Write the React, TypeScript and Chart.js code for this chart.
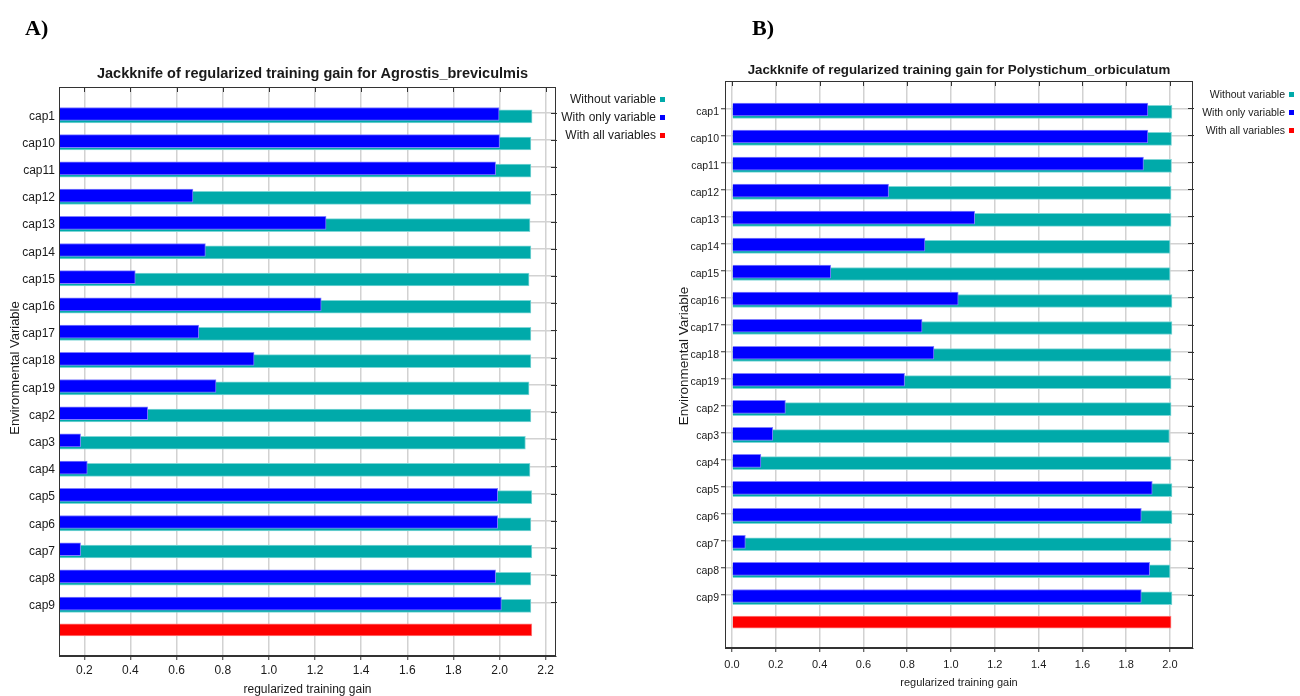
import React, { useEffect, useRef } from "react";
import { Chart, registerables } from "chart.js";

Chart.register(...registerables);

// ---------- data ----------
const categories = [
  "cap1", "cap10", "cap11", "cap12", "cap13", "cap14", "cap15", "cap16", "cap17", "cap18",
  "cap19", "cap2", "cap3", "cap4", "cap5", "cap6", "cap7", "cap8", "cap9",
];

// Panel A: Agrostis_breviculmis
const withoutA = [
  2.141, 2.136, 2.136, 2.136, 2.132, 2.136, 2.128, 2.136, 2.136, 2.136,
  2.128, 2.136, 2.112, 2.132, 2.14, 2.136, 2.14, 2.136, 2.136,
];
const onlyA = [
  1.998, 2.0, 1.983, 0.671, 1.248, 0.725, 0.421, 1.227, 0.696, 0.936,
  0.771, 0.475, 0.184, 0.213, 1.992, 1.992, 0.184, 1.983, 2.008,
];
const allA = 2.14;

// Panel B: Polystichum_orbiculatum
const withoutB = [
  2.009, 2.007, 2.007, 2.005, 2.005, 2.0, 2.0, 2.009, 2.009, 2.005,
  2.005, 2.005, 1.997, 2.005, 2.009, 2.009, 2.005, 2.0, 2.009,
];
const onlyB = [
  1.899, 1.899, 1.879, 0.715, 1.108, 0.881, 0.451, 1.033, 0.868, 0.922,
  0.788, 0.244, 0.186, 0.132, 1.919, 1.869, 0.061, 1.907, 1.869,
];
const allB = 2.005;

const xTicksA = [0.2, 0.4, 0.6, 0.8, 1.0, 1.2, 1.4, 1.6, 1.8, 2.0, 2.2];
const xTicksB = [0.0, 0.2, 0.4, 0.6, 0.8, 1.0, 1.2, 1.4, 1.6, 1.8, 2.0];

const legendLabels = ["Without variable", "With only variable", "With all variables"];
const titleA = "Jackknife of regularized training gain for Agrostis_breviculmis";
const titleB = "Jackknife of regularized training gain for Polystichum_orbiculatum";
const xAxisTitle = "regularized training gain";
const yAxisTitle = "Environmental Variable";

// ---------- styling ----------
const TEAL = "#00aaaa";
const TEAL_EDGE = "#7fd6d6";
const BLUE = "#0000ff";
const BLUE_EDGE = "#7f7fff";
const RED = "#ff0000";
const RED_EDGE = "#ff8080";
const FONT = "'Liberation Sans', Arial, sans-serif";
const TEXT = "#1a1a1a";
const AXIS = "#333333";

type Panel = {
  w: number;
  h: number;
  title: string;
  without: number[];
  only: number[];
  all: number;
  xTicks: number[];
  xMin: number;
  xMax: number;
  yMin: number;
  yMax: number;
  area: { left: number; top: number; right: number; bottom: number };
  font: number;
  xTickFont: number;
  titleFont: number;
  xTitleFont: number;
  yTitleFont: number;
  titlePos: [number, number];
  yTitlePos: [number, number];
  xTitleY: number;
  legend: { xEnd: number; y0: number; dy: number };
  leftTicks: boolean;
  xLabelPad: number;
};

const TICK_SHIFT = 0.13; // grid/tick lines sit slightly above bar centre
const BLUE_SHIFT = -0.085;
const RED_SHIFT = -0.12;

function ChartPanel({ p }: { p: Panel }) {
  const ref = useRef<HTMLCanvasElement | null>(null);
  useEffect(() => {
    if (!ref.current) return;
    const colors = [TEAL, BLUE, RED];
    const decor = {
      id: "decor",
      afterDraw(chart: any) {
        const ctx = chart.ctx as CanvasRenderingContext2D;
        const a = chart.chartArea;
        const xs = chart.scales.x;
        const ys = chart.scales.y;
        ctx.save();
        // frame
        ctx.strokeStyle = AXIS;
        ctx.lineWidth = 1;
        ctx.strokeRect(Math.round(a.left) + 0.5, Math.round(a.top) + 0.5, Math.round(a.right - a.left) - 1, Math.round(a.bottom - a.top) - 1);
        // right ticks
        ctx.beginPath();
        categories.forEach((_, i) => {
          const y = Math.round(ys.getPixelForValue(i - TICK_SHIFT)) + 0.5;
          ctx.moveTo(a.right - 5, y);
          ctx.lineTo(a.right + 1, y);
        });
        // top ticks
        p.xTicks.forEach((v) => {
          const x = Math.round(xs.getPixelForValue(v)) + 0.5;
          ctx.moveTo(x, a.top);
          ctx.lineTo(x, a.top + 5);
        });
        ctx.stroke();
        // title
        ctx.fillStyle = TEXT;
        ctx.textAlign = "center";
        ctx.textBaseline = "middle";
        ctx.font = `bold ${p.titleFont}px ${FONT}`;
        ctx.fillText(p.title, p.titlePos[0], p.titlePos[1]);
        // legend
        ctx.font = `${p.font}px ${FONT}`;
        ctx.textAlign = "right";
        legendLabels.forEach((t, i) => {
          const y = p.legend.y0 + i * p.legend.dy;
          ctx.fillStyle = TEXT;
          ctx.fillText(t, p.legend.xEnd, y);
          ctx.fillStyle = colors[i];
          ctx.fillRect(p.legend.xEnd + 4, y - 3, 5, 5);
        });
        // axis titles
        ctx.fillStyle = TEXT;
        ctx.textAlign = "center";
        ctx.font = `${p.xTitleFont}px ${FONT}`;
        ctx.fillText(xAxisTitle, (a.left + a.right) / 2, p.xTitleY);
        ctx.save();
        ctx.font = `${p.yTitleFont}px ${FONT}`;
        ctx.translate(p.yTitlePos[0], p.yTitlePos[1]);
        ctx.rotate(-Math.PI / 2);
        ctx.fillText(yAxisTitle, 0, 0);
        ctx.restore();
        ctx.restore();
      },
    };

    const chart = new Chart(ref.current, {
      type: "bar",
      data: {
        datasets: [
          {
            label: legendLabels[1],
            data: p.only.map((v, i) => ({ x: v, y: i + BLUE_SHIFT })),
            backgroundColor: BLUE,
            borderColor: BLUE_EDGE,
            borderWidth: 1,
            barThickness: 13,
            grouped: false,
            clip: 0,
          } as any,
          {
            label: legendLabels[0],
            data: p.without.map((v, i) => ({ x: v, y: i })),
            backgroundColor: TEAL,
            borderColor: TEAL_EDGE,
            borderWidth: 1,
            barThickness: 13,
            grouped: false,
            clip: 0,
          } as any,
          {
            label: legendLabels[2],
            data: [{ x: p.all, y: categories.length + RED_SHIFT }],
            backgroundColor: RED,
            borderColor: RED_EDGE,
            borderWidth: 1,
            barThickness: 12,
            grouped: false,
            clip: 0,
          } as any,
        ],
      },
      options: {
        indexAxis: "y",
        responsive: false,
        animation: false,
        devicePixelRatio: 1,
        layout: {
          padding: { left: 0, top: p.area.top, right: p.w - p.area.right, bottom: 0 },
        },
        plugins: { legend: { display: false }, tooltip: { enabled: false }, title: { display: false } },
        scales: {
          x: {
            type: "linear",
            position: "bottom",
            offset: false,
            min: p.xMin,
            max: p.xMax,
            afterBuildTicks: (s: any) => {
              s.ticks = p.xTicks.map((v) => ({ value: v }));
            },
            afterFit: (s: any) => {
              s.height = p.h - p.area.bottom;
            },
            ticks: {
              autoSkip: false,
              maxRotation: 0,
              padding: p.xLabelPad,
              color: TEXT,
              font: { family: FONT, size: p.xTickFont },
              callback: (v: any) => Number(v).toFixed(1),
            },
            grid: { color: "#d2d2d2", lineWidth: 1.5, tickLength: 4, tickColor: AXIS, tickWidth: 1, offset: false },
            border: { display: true, color: AXIS, width: 1 },
          },
          y: {
            type: "linear",
            reverse: true,
            offset: false,
            min: p.yMin,
            max: p.yMax,
            afterBuildTicks: (s: any) => {
              s.ticks = categories.map((_, i) => ({ value: i - TICK_SHIFT }));
            },
            afterFit: (s: any) => {
              s.width = p.area.left;
            },
            ticks: {
              autoSkip: false,
              padding: p.leftTicks ? 2 : 4,
              labelOffset: 3.5,
              color: TEXT,
              font: { family: FONT, size: p.font },
              callback: (v: any) => categories[Math.round(Number(v) + TICK_SHIFT)] ?? "",
            },
            grid: {
              color: "#d2d2d2",
              lineWidth: 1.5,
              offset: false,
              drawTicks: p.leftTicks,
              tickLength: 4,
              tickColor: AXIS,
              tickWidth: 1,
            },
            border: { display: true, color: AXIS, width: 1 },
          },
        },
      } as any,
      plugins: [decor],
    });
    return () => chart.destroy();
  }, [p]);
  return <canvas ref={ref} width={p.w} height={p.h} style={{ width: p.w, height: p.h, display: "block" }} />;
}

const panelA: Panel = {
  w: 670,
  h: 696,
  title: titleA,
  without: withoutA,
  only: onlyA,
  all: allA,
  xTicks: xTicksA,
  xMin: 0.0903,
  xMax: 2.2447,
  yMin: -1.077,
  yMax: 19.84,
  area: { left: 59, top: 87, right: 556, bottom: 656 },
  font: 12,
  xTickFont: 12,
  titleFont: 14.5,
  xTitleFont: 12,
  yTitleFont: 13,
  titlePos: [312.5, 74],
  yTitlePos: [15, 368],
  xTitleY: 690,
  legend: { xEnd: 656, y0: 100, dy: 18 },
  leftTicks: false,
  xLabelPad: 3,
};

const panelB: Panel = {
  w: 630,
  h: 696,
  title: titleB,
  without: withoutB,
  only: onlyB,
  all: allB,
  xTicks: xTicksB,
  xMin: -0.032,
  xMax: 2.105,
  yMin: -1.14,
  yMax: 19.84,
  area: { left: 55, top: 81, right: 523, bottom: 648 },
  font: 10.5,
  xTickFont: 11,
  titleFont: 13.3,
  xTitleFont: 11,
  yTitleFont: 13.5,
  titlePos: [289, 70],
  yTitlePos: [14, 356],
  xTitleY: 683,
  legend: { xEnd: 615, y0: 95, dy: 18 },
  leftTicks: true,
  xLabelPad: 6,
};

export default function App() {
  const label: React.CSSProperties = {
    position: "absolute",
    fontFamily: "'Liberation Serif', 'Times New Roman', serif",
    fontWeight: "bold",
    fontSize: 22,
    lineHeight: "22px",
    color: "#000",
  };
  return (
    <div style={{ position: "fixed", left: 0, top: 0, width: 1300, height: 696, background: "#fff", overflow: "hidden" }}>
      <div style={{ position: "absolute", left: 0, top: 0 }}>
        <ChartPanel p={panelA} />
      </div>
      <div style={{ position: "absolute", left: 670, top: 0 }}>
        <ChartPanel p={panelB} />
      </div>
      <div style={{ ...label, left: 25, top: 17 }}>A)</div>
      <div style={{ ...label, left: 752, top: 17 }}>B)</div>
    </div>
  );
}
